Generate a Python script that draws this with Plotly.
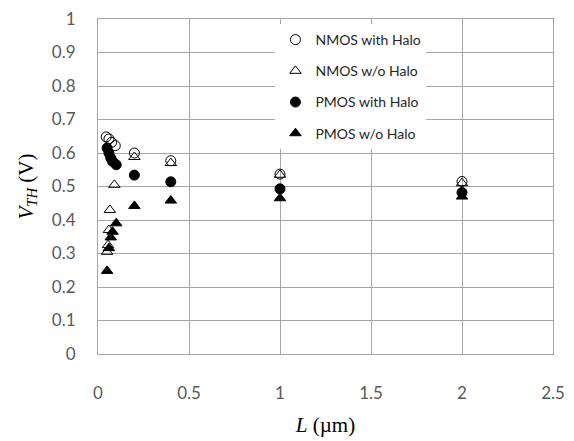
import plotly.graph_objects as go

# Gate length L (um) and threshold voltage VTH (V) for each device type
nmos_halo_L = [0.045, 0.06, 0.075, 0.095, 0.2, 0.4, 1.0, 2.0]
nmos_halo_v = [0.648, 0.642, 0.632, 0.622, 0.600, 0.577, 0.537, 0.515]

nmos_nohalo_L = [0.05, 0.055, 0.06, 0.065, 0.09, 0.2, 0.4, 1.0, 2.0]
nmos_nohalo_v = [0.305, 0.325, 0.370, 0.430, 0.505, 0.588, 0.570, 0.535, 0.510]

pmos_halo_L = [0.05, 0.06, 0.07, 0.08, 0.1, 0.2, 0.4, 1.0, 2.0]
pmos_halo_v = [0.615, 0.600, 0.585, 0.575, 0.565, 0.534, 0.514, 0.493, 0.482]

pmos_nohalo_L = [0.05, 0.06, 0.07, 0.08, 0.1, 0.2, 0.4, 1.0, 2.0]
pmos_nohalo_v = [0.248, 0.316, 0.348, 0.365, 0.390, 0.442, 0.458, 0.465, 0.470]

x_ticks = [0, 0.5, 1, 1.5, 2, 2.5]
x_tick_labels = ["0", "0.5", "1", "1.5", "2", "2.5"]
y_ticks = [0, 0.1, 0.2, 0.3, 0.4, 0.5, 0.6, 0.7, 0.8, 0.9, 1]
y_tick_labels = ["0", "0.1", "0.2", "0.3", "0.4", "0.5", "0.6", "0.7", "0.8", "0.9", "1"]

series = [
    ("NMOS with Halo", nmos_halo_L, nmos_halo_v, "circle-open"),
    ("NMOS w/o Halo", nmos_nohalo_L, nmos_nohalo_v, "triangle-up-open"),
    ("PMOS with Halo", pmos_halo_L, pmos_halo_v, "circle"),
    ("PMOS w/o Halo", pmos_nohalo_L, pmos_nohalo_v, "triangle-up"),
]

fig = go.Figure()
for i, (name, xs, ys, sym) in enumerate(series):
    fig.add_trace(go.Scatter(
        x=xs, y=ys, mode="markers", name=name, legendgroup=str(i),
        marker=dict(symbol=sym, size=10, color="black",
                    line=dict(color="black", width=1)),
    ))

grid = "#a6a6a6"
tick_font = dict(family="Lato, Liberation Sans, sans-serif", size=17, color="#595959")

fig.update_layout(
    width=574, height=441,
    margin=dict(l=98, r=21, t=19, b=87),
    paper_bgcolor="white", plot_bgcolor="white",
    showlegend=True,
    legend=dict(
        x=0.39, y=0.985, xanchor="left", yanchor="top",
        bgcolor="white", borderwidth=0,
        font=dict(family="Lato, Liberation Sans, sans-serif", size=14, color="#262626"),
        tracegroupgap=10, traceorder="grouped", itemwidth=30,
    ),
    xaxis=dict(
        range=[0, 2.5], tickvals=x_ticks, ticktext=x_tick_labels,
        showgrid=True, gridcolor=grid, gridwidth=1,
        showline=True, linecolor=grid, linewidth=1, mirror=True,
        zeroline=False, ticks="", tickfont=tick_font, ticklabelstandoff=24,
        title=dict(text="<i>L</i> (µm)", standoff=14,
                   font=dict(family="Liberation Serif, serif", size=21, color="black")),
        automargin=False,
    ),
    yaxis=dict(
        range=[0, 1], tickvals=y_ticks, ticktext=y_tick_labels,
        showgrid=True, gridcolor=grid, gridwidth=1,
        showline=True, linecolor=grid, linewidth=1, mirror=True,
        zeroline=False, ticks="", tickfont=tick_font, ticklabelstandoff=18,
        title=dict(text="<i>V</i><sub><i>TH</i></sub> (V)", standoff=12,
                   font=dict(family="Liberation Serif, serif", size=21, color="black")),
        automargin=False,
    ),
)

fig.write_html("out.html")
